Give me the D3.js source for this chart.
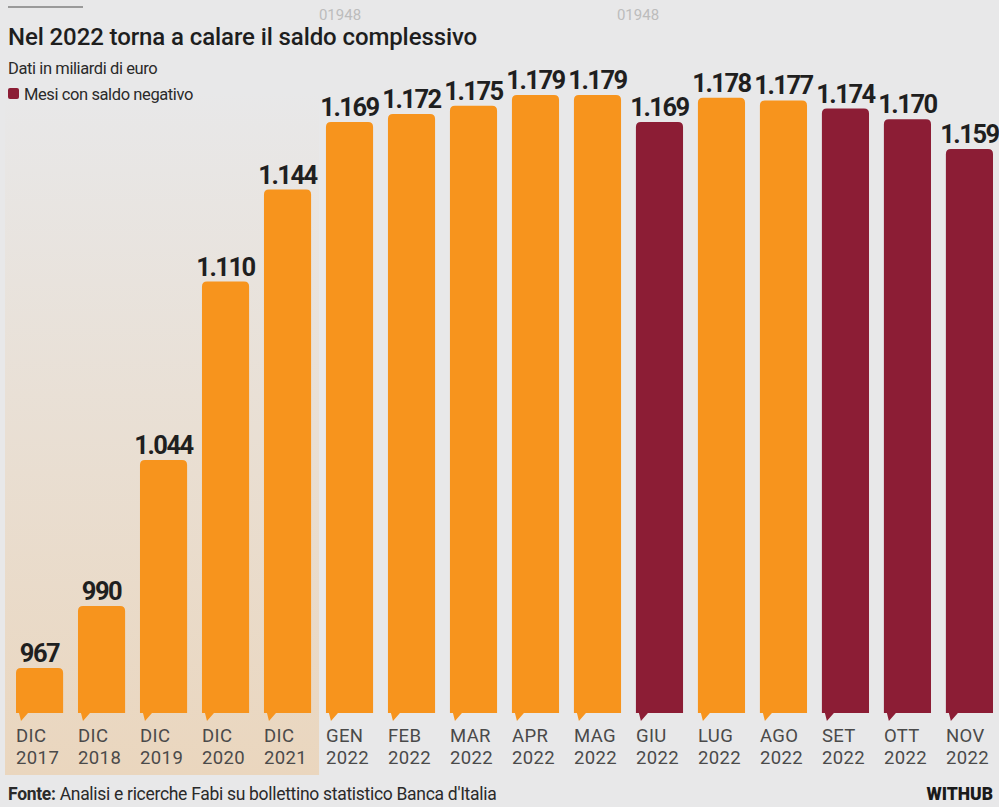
<!DOCTYPE html>
<html>
<head>
<meta charset="utf-8">
<script src="https://cdn.jsdelivr.net/npm/d3@7"></script>
<style>
  html, body { margin: 0; padding: 0; background: #e8e8e9; }
  svg { display: block; }
</style>
</head>
<body>
<svg id="chart" width="999" height="807"></svg>
<script>
// ---- data ----
const months = ["DIC", "DIC", "DIC", "DIC", "DIC", "GEN", "FEB", "MAR", "APR", "MAG", "GIU", "LUG", "AGO", "SET", "OTT", "NOV"];
const years = ["2017", "2018", "2019", "2020", "2021", "2022", "2022", "2022", "2022", "2022", "2022", "2022", "2022", "2022", "2022", "2022"];
const values = [967, 990, 1044, 1110, 1144, 1169, 1172, 1175, 1179, 1179, 1169, 1178, 1177, 1174, 1170, 1159];
const negative = [false, false, false, false, false, false, false, false, false, false, true, false, false, true, true, true];
const valueLabels = ["967", "990", "1.044", "1.110", "1.144", "1.169", "1.172", "1.175", "1.179", "1.179", "1.169", "1.178", "1.177", "1.174", "1.170", "1.159"];

const ORANGE = "#f7941d", RED = "#8c1d35";
const svg = d3.select("#chart");
const ids = d3.range(values.length);

const x = d3.scaleBand().domain(ids).range([16, 993]).paddingInner(0.24).paddingOuter(0);
const y = d3.scaleLinear().domain([950.4, 1179]).range([713, 95]);

// gradient for yearly section
const defs = svg.append("defs");
const grad = defs.append("linearGradient").attr("id", "shade").attr("x1", 0).attr("y1", 0).attr("x2", 0).attr("y2", 1);
grad.append("stop").attr("offset", "0%").attr("stop-color", "#e8e8e9");
grad.append("stop").attr("offset", "100%").attr("stop-color", "#ead6be");

svg.append("rect")
  .attr("x", 5).attr("y", 92)
  .attr("width", x(4) + x.bandwidth() + 8 - 5)
  .attr("height", 775 - 92)
  .attr("fill", "url(#shade)");

// top rule
svg.append("line").attr("x1", 8).attr("x2", 83).attr("y1", 7).attr("y2", 7)
  .attr("stroke", "#9a9a9a").attr("stroke-width", 2);

// watermarks
[340, 638].forEach(cx => svg.append("text").attr("x", cx).attr("y", 20).attr("text-anchor", "middle")
  .attr("font-family", "Roboto, sans-serif").attr("font-size", 15).attr("fill", "#bcbcbc").text("01948"));

// title
svg.append("text").attr("x", 8).attr("y", 45)
  .attr("font-family", "Roboto, sans-serif").attr("font-weight", 500).attr("font-size", 24)
  .attr("fill", "#1e1e1e").attr("letter-spacing", -0.1)
  .text("Nel 2022 torna a calare il saldo complessivo");
svg.append("text").attr("x", 8).attr("y", 74)
  .attr("font-family", "Roboto, sans-serif").attr("font-size", 16.5).attr("fill", "#2a2a2a")
  .attr("letter-spacing", -0.4)
  .text("Dati in miliardi di euro");
svg.append("rect").attr("x", 8).attr("y", 88).attr("width", 11).attr("height", 11).attr("rx", 2).attr("fill", RED);
svg.append("text").attr("x", 24).attr("y", 100)
  .attr("font-family", "Roboto, sans-serif").attr("font-size", 16.5).attr("fill", "#2a2a2a")
  .attr("letter-spacing", -0.4)
  .text("Mesi con saldo negativo");

// bars
const g = svg.append("g");
g.selectAll("path.bar").data(ids).join("path")
  .attr("class", "bar")
  .attr("fill", i => negative[i] ? RED : ORANGE)
  .attr("d", i => {
    const x0 = x(i), w = x.bandwidth(), top = y(values[i]), bot = y.range()[0], r = 5;
    return `M${x0},${bot + 1}` +
      `L${x0},${top + r} Q${x0},${top} ${x0 + r},${top}` +
      `L${x0 + w - r},${top} Q${x0 + w},${top} ${x0 + w},${top + r}` +
      `L${x0 + w},${bot} L${x0 + 12},${bot} L${x0 + 5},${bot + 8} L${x0 + 3},${bot} L${x0},${bot} Z`;
  });

// value labels
g.selectAll("text.val").data(ids).join("text")
  .attr("class", "val")
  .attr("x", i => x(i) + x.bandwidth() / 2)
  .attr("y", i => y(values[i]) - 6)
  .attr("text-anchor", "middle")
  .attr("font-family", "Roboto, sans-serif").attr("font-weight", 700).attr("font-size", 25.5)
  .attr("letter-spacing", -1.5)
  .attr("fill", "#1f1f1f")
  .text(i => valueLabels[i]);

// category labels (two separate lines)
const catStyle = sel => sel
  .attr("font-family", "Roboto, sans-serif").attr("font-size", 18.5).attr("fill", "#4a4a4a")
  .attr("letter-spacing", 0.4);
g.selectAll("text.mon").data(ids).join("text").attr("class", "mon")
  .attr("x", i => x(i)).attr("y", 742).call(catStyle).text(i => months[i]);
g.selectAll("text.yr").data(ids).join("text").attr("class", "yr")
  .attr("x", i => x(i)).attr("y", 764).call(catStyle).text(i => years[i]);

// footer
const f = svg.append("text").attr("x", 8).attr("y", 800)
  .attr("font-family", "Roboto, sans-serif").attr("font-size", 17.5).attr("fill", "#2a2a2a")
  .attr("letter-spacing", -0.3);
f.append("tspan").attr("font-weight", 700).text("Fonte:");
f.append("tspan").text(" Analisi e ricerche Fabi su bollettino statistico Banca d'Italia");
svg.append("text").attr("x", 993).attr("y", 800).attr("text-anchor", "end")
  .attr("font-family", "Roboto, sans-serif").attr("font-weight", 900).attr("font-size", 17.5)
  .attr("fill", "#1a1a1a").text("WITHUB");
</script>
</body>
</html>
